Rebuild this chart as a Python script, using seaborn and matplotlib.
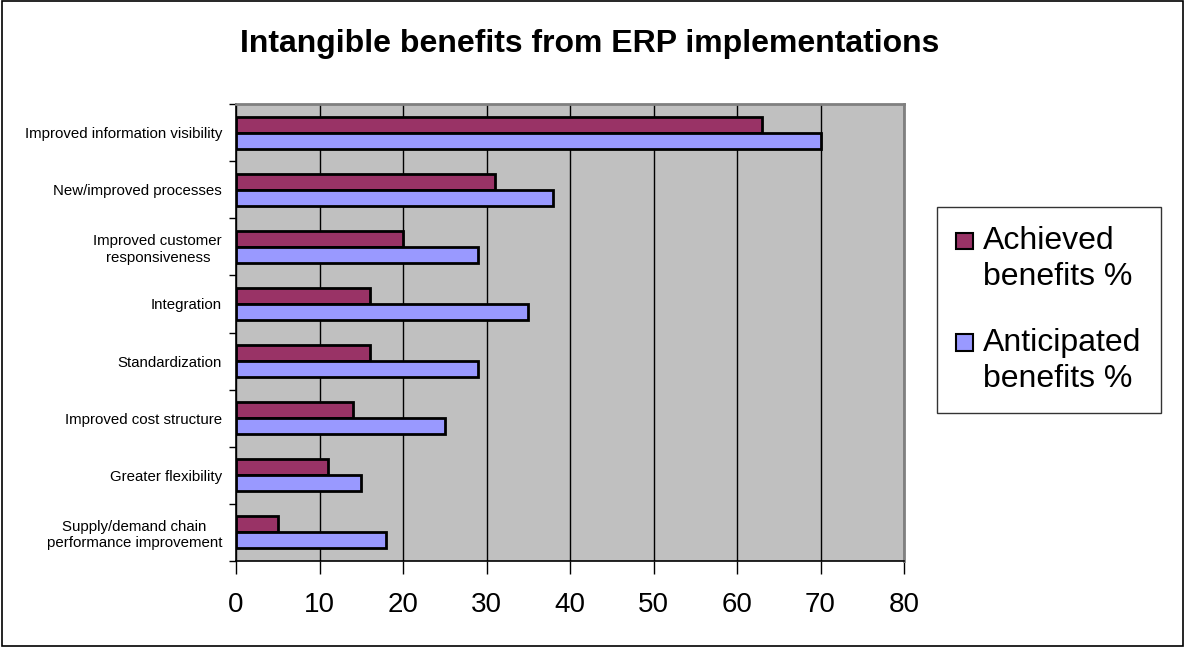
import matplotlib
matplotlib.use("Agg")
import matplotlib.pyplot as plt
import seaborn as sns
import pandas as pd
from matplotlib.patches import Rectangle, Patch
from matplotlib.legend_handler import HandlerPatch

categories = [
    "Improved information visibility",
    "New/improved processes",
    "Improved customer\nresponsiveness",
    "Integration",
    "Standardization",
    "Improved cost structure",
    "Greater flexibility",
    "Supply/demand chain\nperformance improvement",
]
achieved = [63, 31, 20, 16, 16, 14, 11, 5]
anticipated = [70, 38, 29, 35, 29, 25, 15, 18]
series_names = ["Achieved\nbenefits %", "Anticipated\nbenefits %"]
x_ticks = [0, 10, 20, 30, 40, 50, 60, 70, 80]
title = "Intangible benefits from ERP implementations"

df = pd.DataFrame({
    "category": categories * 2,
    "value": achieved + anticipated,
    "series": [series_names[0]] * len(categories) + [series_names[1]] * len(categories),
})

sns.set_theme(style="white")
plt.rcParams["font.family"] = ["Liberation Sans", "DejaVu Sans"]
for k in ["text.color", "xtick.color", "ytick.color", "axes.labelcolor"]:
    plt.rcParams[k] = "black"

colors = ["#993366", "#9999FF"]

fig = plt.figure(figsize=(11.85, 6.47), dpi=100)
ax = fig.add_axes([236 / 1185, 86 / 647, 668 / 1185, 457 / 647])
ax.set_facecolor("#C0C0C0")

sns.barplot(data=df, y="category", x="value", hue="series", hue_order=series_names,
            order=categories, palette=colors, orient="h", width=0.56,
            edgecolor="black", linewidth=2, saturation=1, ax=ax, legend=False, zorder=3)

ax.set_xlim(0, 80)
ax.set_ylim(len(categories) - 0.5, -0.5)
ax.set_xticks(x_ticks)
ax.set_xticklabels([str(t) for t in x_ticks], fontsize=20)
ax.xaxis.grid(True, color="black", linewidth=1, zorder=1)
ax.set_axisbelow(True)
ax.set_xlabel("")
ax.set_ylabel("")

ax.set_yticks(range(len(categories)))
ax.set_yticklabels(categories, fontsize=10.8, multialignment="center")
ax.tick_params(axis="y", which="major", length=0, pad=10)
ax.set_yticks([i - 0.5 for i in range(len(categories) + 1)], minor=True)
ax.tick_params(axis="y", which="minor", length=5, width=1, color="black", left=True)
ax.tick_params(axis="x", which="major", length=9, width=1, color="black", bottom=True, pad=13)

for side in ["left", "bottom"]:
    ax.spines[side].set_color("black")
    ax.spines[side].set_linewidth(1.2)
for side in ["top", "right"]:
    ax.spines[side].set_color("#808080")
    ax.spines[side].set_linewidth(2)

fig.text(590 / 1185, 1 - 44 / 647, title, fontsize=23, fontweight="bold",
         ha="center", va="center")


def top_square(legend, orig_handle, xdescent, ydescent, width, height, fontsize):
    side = 0.52 * fontsize
    return Rectangle((-xdescent, -ydescent + 0.6 * fontsize), side, side)


handles = [Patch(facecolor=c, edgecolor="black", linewidth=1.5) for c in colors]
leg = fig.legend(handles, series_names, loc="upper left",
                 bbox_to_anchor=(937 / 1185, 1 - 207 / 647), bbox_transform=fig.transFigure,
                 fontsize=23, frameon=True, fancybox=False, edgecolor="black",
                 handlelength=0.5, handleheight=0.5, handletextpad=0.35,
                 labelspacing=1.1, borderpad=0.6, borderaxespad=0,
                 handler_map={Patch: HandlerPatch(patch_func=top_square)})
leg.get_frame().set_linewidth(1)
for t in leg.get_texts():
    t.set_linespacing(1.27)

fig.patches.append(Rectangle((0.002, 0.002), 0.996, 0.996, transform=fig.transFigure,
                             fill=False, edgecolor="black", linewidth=1.2))

fig.savefig("out.png", dpi=100)
